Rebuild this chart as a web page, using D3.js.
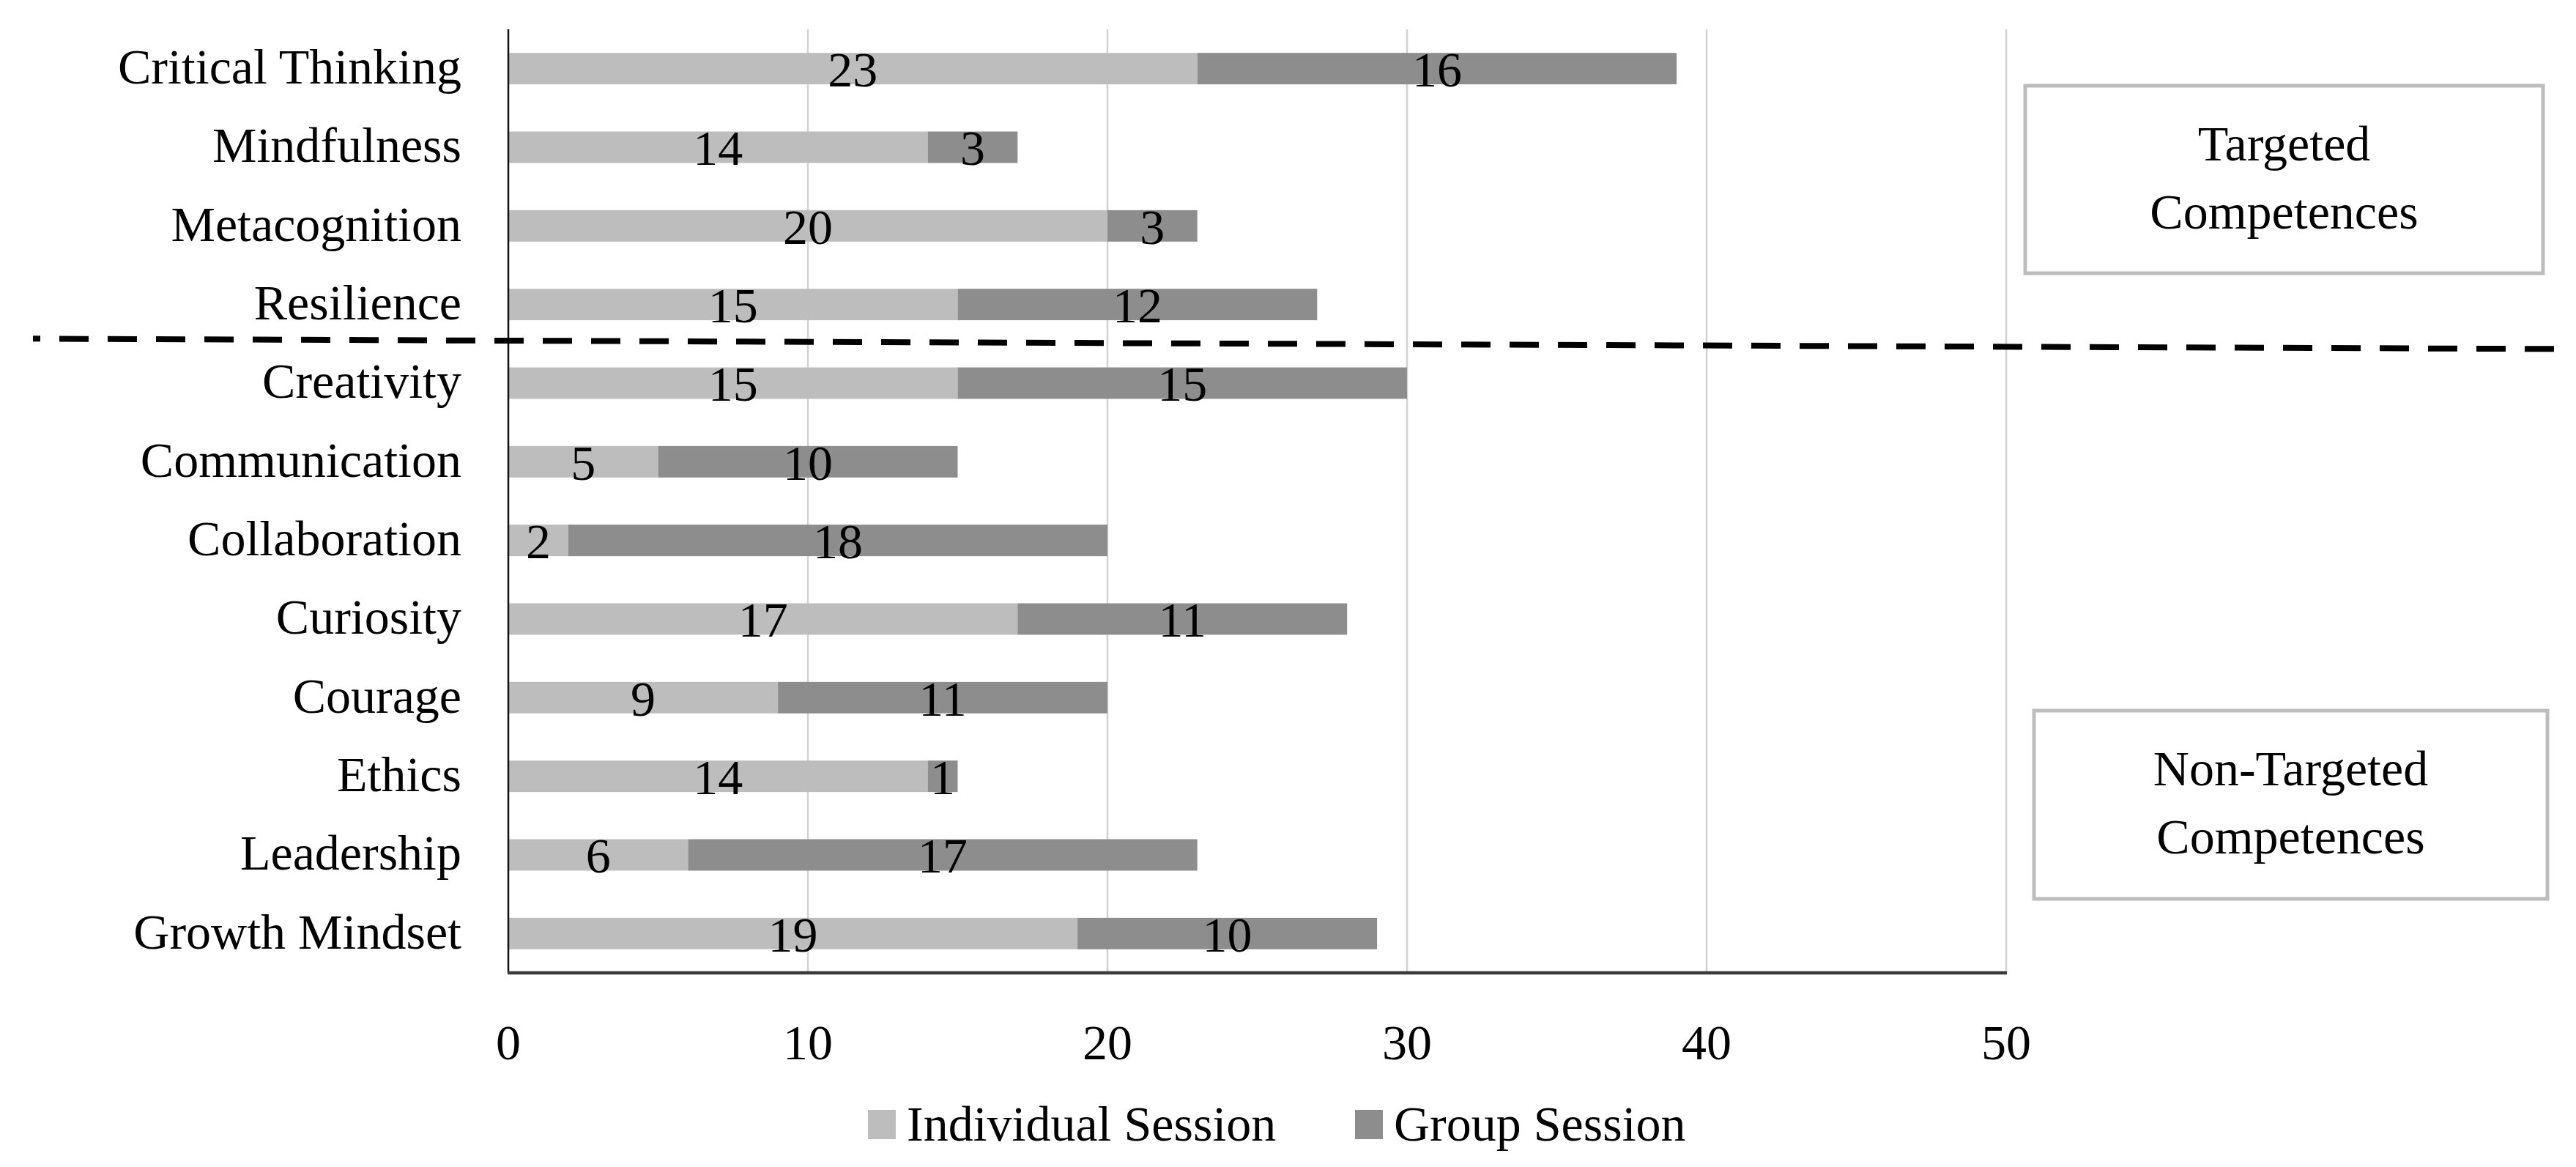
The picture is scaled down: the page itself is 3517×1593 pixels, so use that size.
<!DOCTYPE html>
<html>
<head>
<meta charset="utf-8">
<script src="https://cdn.jsdelivr.net/npm/d3@7/dist/d3.min.js"></script>
<style>
  html, body { margin: 0; padding: 0; background: #fff; }
  svg { display: block; font-family: "Liberation Serif", "DejaVu Serif", serif; }
</style>
</head>
<body>
<div id="chart"></div>
<script>
// ─── Competences: individual vs group sessions ─────────────
const categories = ['Critical Thinking', 'Mindfulness', 'Metacognition', 'Resilience',
  'Creativity', 'Communication', 'Collaboration', 'Curiosity', 'Courage', 'Ethics',
  'Leadership', 'Growth Mindset'];
const individual = [23, 14, 20, 15, 15, 5, 2, 17, 9, 14, 6, 19];
const group      = [16, 3, 3, 12, 15, 10, 18, 11, 11, 1, 17, 10];
const seriesNames = ['Individual Session', 'Group Session'];
const xTicks = [0, 10, 20, 30, 40, 50];
const groupBoxes = [['Targeted', 'Competences'], ['Non-Targeted', 'Competences']];
const targetedCount = 4; // first four rows are the targeted ones

const W = 3517, H = 1593;
const FS = 68;
const colors = ['#bdbdbd', '#8d8d8d'];
const margin = { left: 694, top: 40, right: W - 2739, bottom: H - 1328 };

const svg = d3.select('#chart').append('svg')
  .attr('width', W).attr('height', H)
  .attr('viewBox', `0 0 ${W} ${H}`);

const x = d3.scaleLinear().domain([0, 50]).range([margin.left, W - margin.right]);
const y = d3.scaleBand().domain(categories)
  .range([margin.top, H - margin.bottom]).paddingInner(0.6).paddingOuter(0.3);

// gridlines
svg.append('g').selectAll('line')
  .data(xTicks.filter(d => d > 0))
  .enter().append('line')
  .attr('x1', d => x(d)).attr('x2', d => x(d))
  .attr('y1', margin.top).attr('y2', H - margin.bottom)
  .attr('stroke', '#d2d2d2').attr('stroke-width', 2.5);

// stacked bars
const rows = categories.map((c, i) => ({ cat: c, vals: [individual[i], group[i]] }));
const segs = [];
rows.forEach(r => {
  let acc = 0;
  r.vals.forEach((v, k) => {
    segs.push({ cat: r.cat, k, v, x0: acc, x1: acc + v });
    acc += v;
  });
});

svg.append('g').selectAll('rect')
  .data(segs)
  .enter().append('rect')
  .attr('x', d => x(d.x0))
  .attr('y', d => y(d.cat))
  .attr('width', d => x(d.x1) - x(d.x0))
  .attr('height', y.bandwidth())
  .attr('fill', d => colors[d.k]);

svg.append('g').selectAll('text')
  .data(segs)
  .enter().append('text')
  .attr('x', d => x((d.x0 + d.x1) / 2))
  .attr('y', d => y(d.cat) + y.bandwidth() / 2)
  .attr('dy', '0.36em')
  .attr('text-anchor', 'middle')
  .attr('font-size', FS)
  .attr('fill', '#000')
  .text(d => d.v);

// category labels
svg.append('g').selectAll('text')
  .data(categories)
  .enter().append('text')
  .attr('x', margin.left - 64)
  .attr('y', d => y(d) + y.bandwidth() / 2)
  .attr('dy', '0.3em')
  .attr('text-anchor', 'end')
  .attr('font-size', FS)
  .text(d => d);

// axes lines
svg.append('line')
  .attr('x1', x(0)).attr('x2', x(0))
  .attr('y1', margin.top).attr('y2', H - margin.bottom)
  .attr('stroke', '#111').attr('stroke-width', 2.5);
svg.append('line')
  .attr('x1', x(0) - 1).attr('x2', x(50) + 1)
  .attr('y1', H - margin.bottom).attr('y2', H - margin.bottom)
  .attr('stroke', '#3a3a3a').attr('stroke-width', 4.5);

// x tick labels
svg.append('g').selectAll('text')
  .data(xTicks)
  .enter().append('text')
  .attr('x', d => x(d))
  .attr('y', H - margin.bottom + 118)
  .attr('text-anchor', 'middle')
  .attr('font-size', FS)
  .text(d => d);

// divider between targeted and non-targeted (slightly tilted, like the original)
const divY = (y(categories[targetedCount - 1]) + y.bandwidth() + y(categories[targetedCount])) / 2;
svg.append('line')
  .attr('x1', 45).attr('x2', 3488)
  .attr('y1', divY - 7).attr('y2', divY + 7)
  .attr('stroke', '#000').attr('stroke-width', 8)
  .attr('stroke-dasharray', '40 26')
  .attr('stroke-dashoffset', 30);

// group boxes
const boxes = [
  { x0: 2765, x1: 3472, y0: 117, y1: 373, lines: groupBoxes[0] },
  { x0: 2777, x1: 3478, y0: 970, y1: 1227, lines: groupBoxes[1] }
];
boxes.forEach(b => {
  svg.append('rect')
    .attr('x', b.x0).attr('y', b.y0)
    .attr('width', b.x1 - b.x0).attr('height', b.y1 - b.y0)
    .attr('fill', '#fff').attr('stroke', '#bdbdbd').attr('stroke-width', 5);
  const cy = (b.y0 + b.y1) / 2;
  b.lines.forEach((t, i) => {
    svg.append('text')
      .attr('x', (b.x0 + b.x1) / 2)
      .attr('y', cy + (i - 0.5) * 93)
      .attr('dy', '0.3em')
      .attr('text-anchor', 'middle')
      .attr('font-size', FS)
      .text(t);
  });
});

// legend
const legendX = [1185, 1850];
const lg = svg.append('g').selectAll('g')
  .data(seriesNames)
  .enter().append('g')
  .attr('transform', (d, i) => `translate(${legendX[i]},1535)`);
lg.append('rect')
  .attr('x', 0).attr('y', -20).attr('width', 38).attr('height', 40)
  .attr('fill', (d, i) => colors[i]);
lg.append('text')
  .attr('x', 53).attr('y', 0).attr('dy', '0.32em')
  .attr('font-size', FS)
  .text(d => d);
</script>
</body>
</html>
